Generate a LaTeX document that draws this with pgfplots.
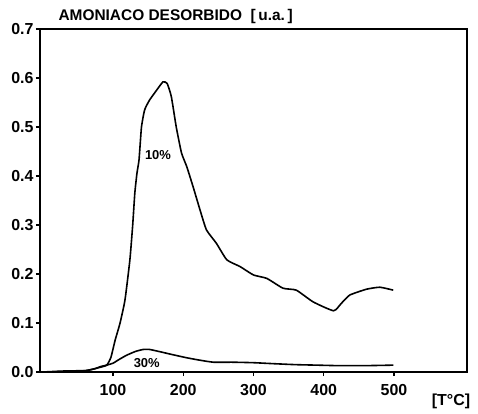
\documentclass[border=0pt]{standalone}
\usepackage{fontspec}
\setmainfont{Liberation Sans}
\usepackage{pgfplots}
\pgfplotsset{compat=1.18}
\begin{document}
\begin{tikzpicture}
\begin{axis}[
  at={(0,0)}, anchor=south west,
  scale only axis, width=427bp, height=343bp,
  xmin=-4, xmax=604, ymin=0, ymax=0.7,
  xtick={100,200,300,400,500},
  ytick={0,0.1,0.2,0.3,0.4,0.5,0.6,0.7},
  tick pos=left,
  tick align=outside,
  major tick length=4bp,
  minor tick num=0,
  /pgf/number format/assume math mode=true,
  yticklabel style={/pgf/number format/fixed, /pgf/number format/fixed zerofill, /pgf/number format/precision=1, xshift=1bp},
  xticklabel style={yshift=-5bp},
  ticklabel style={font=\fontsize{16}{16}\selectfont\bfseries},
  axis line style={line width=1.8bp},
  every tick/.style={line width=1.4bp, black},
  clip=false,
]
% 10 %
\addplot[black, line width=1.6bp, smooth, tension=0.3] coordinates {
(0,0.000) (40,0.001) (62,0.003) (80,0.009) (91,0.014) (97,0.030) (103,0.065) (110,0.100) (117,0.147) (124,0.229)
(128,0.300) (131,0.365) (134,0.405) (137,0.433) (140.5,0.500) (145,0.535) (152,0.555) (162,0.575) (171,0.592)
(177,0.589) (183,0.562) (190,0.500) (197.5,0.447) (205,0.419) (214,0.378) (224,0.330) (233,0.290) (247,0.263)
(262,0.229) (281,0.215) (300,0.198) (319,0.191) (342,0.171) (361,0.167) (385,0.143) (414,0.125) (425,0.140)
(437,0.157) (461,0.169) (480,0.173) (499,0.167)
};
% 30 %
\addplot[black, line width=1.6bp, smooth, tension=0.3] coordinates {
(0,0.000) (30,0.002) (62,0.003) (75,0.007) (82,0.011) (91,0.014) (100,0.018) (108,0.025) (119,0.034) (132,0.042)
(143,0.046) (152,0.046) (165,0.042) (186,0.035) (205,0.029) (224,0.024) (243,0.020) (270,0.020) (300,0.019)
(328,0.017) (360,0.015) (390,0.014) (420,0.013) (460,0.013) (499,0.014)
};
\node[font=\fontsize{13}{13}\selectfont\bfseries] at (axis cs:164,0.443) {10\%};
\node[font=\fontsize{13}{13}\selectfont\bfseries] at (axis cs:148,0.018) {30\%};
\end{axis}
\path (-40bp,-42bp) rectangle (438bp,372bp);
\node[anchor=base west, font=\fontsize{15.5}{15.5}\selectfont\bfseries] at (15bp,351bp) {AMONIACO DESORBIDO\ \ [\,u.a.\,]};
\node[font=\fontsize{16}{16}\selectfont\bfseries] at (411bp,-29bp) {[T°C]};
\end{tikzpicture}
\end{document}
